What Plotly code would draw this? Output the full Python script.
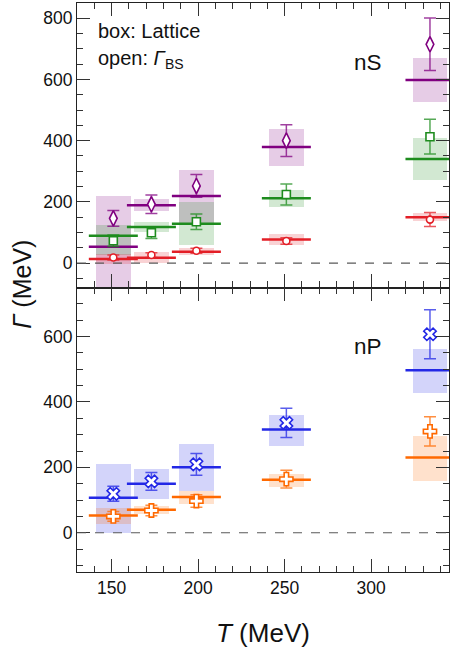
import plotly.graph_objects as go
from plotly.subplots import make_subplots

# ---------------- data ----------------
T = [151, 173, 199, 251, 334]
BOX_W = 20

# nS panel: lattice central values and band limits
lat_1S = [13, 17, 37, 77, 150]
lat_1S_lo = [-3, -1, 26, 59, 137]
lat_1S_hi = [29, 36, 48, 94, 162]
lat_2S = [89, 118, 128, 212, 340]
lat_2S_lo = [25, 101, 59, 184, 271]
lat_2S_hi = [124, 134, 200, 238, 409]
lat_3S = [53, 189, 219, 379, 598]
lat_3S_lo = [-112, 171, 129, 317, 526]
lat_3S_hi = [218, 209, 305, 437, 669]
# nS panel: Gamma_BS points with errors
bs_1S = [18, 26, 40, 72, 142]
bs_1S_err = [8, 8, 8, 11, 23]
bs_2S = [73, 99, 135, 224, 413]
bs_2S_err = [19, 19, 25, 34, 57]
bs_3S = [146, 192, 252, 400, 715]
bs_3S_err = [26, 30, 37, 52, 86]

# nP panel
lat_1P = [53, 70, 109, 162, 230]
lat_1P_lo = [27, 58, 91, 141, 161]
lat_1P_hi = [76, 82, 128, 182, 296]
lat_2P = [107, 150, 200, 316, 497]
lat_2P_lo = [0, 104, 128, 268, 429]
lat_2P_hi = [212, 195, 274, 363, 565]
bs_1P = [50, 68, 97, 164, 310]
bs_1P_err = [15, 16, 19, 27, 45]
bs_2P = [119, 157, 209, 336, 607]
bs_2P_err = [23, 27, 33, 45, 75]

X_TICKS = [150, 200, 250, 300]
Y_TICKS_S = [0, 200, 400, 600, 800]
Y_TICKS_P = [0, 200, 400, 600]

# ---------------- style ----------------
RED = (227, 30, 38)
GREEN = (30, 140, 30)
PURPLE = (128, 0, 128)
BLUE = (35, 40, 230)
ORANGE = (255, 105, 0)


def rgba(c, a=1.0):
    return f"rgba({c[0]},{c[1]},{c[2]},{a})"


FONT = "Liberation Sans, Arial, sans-serif"

fig = make_subplots(rows=2, cols=1, shared_xaxes=True, vertical_spacing=0)


def add_band(row, center, lo, hi, col):
    fig.add_trace(go.Bar(x=T, y=[h - l for h, l in zip(hi, lo)], base=lo,
                         width=BOX_W, marker=dict(color=rgba(col, 0.2), line=dict(width=0)),
                         hoverinfo="skip", showlegend=False), row=row, col=1)


def add_line(row, center, col):
    fig.add_trace(go.Scatter(x=T, y=center, mode="markers",
                             marker=dict(symbol="line-ew", size=35,
                                         line=dict(color=rgba(col), width=2.5)),
                             hoverinfo="skip", showlegend=False), row=row, col=1)


def add_points(row, vals, err, col, symbol, size):
    fig.add_trace(go.Scatter(x=T, y=vals, mode="markers",
                             error_y=dict(type="data", array=err, color=rgba(col, 0.75),
                                          thickness=1.5, width=6),
                             marker=dict(symbol=symbol, size=size, color="white",
                                         line=dict(color=rgba(col), width=1.6)),
                             hoverinfo="skip", showlegend=False), row=row, col=1)


# nS panel
add_band(1, lat_3S, lat_3S_lo, lat_3S_hi, PURPLE)
add_band(1, lat_2S, lat_2S_lo, lat_2S_hi, GREEN)
add_band(1, lat_1S, lat_1S_lo, lat_1S_hi, RED)
add_line(1, lat_3S, PURPLE)
add_line(1, lat_2S, GREEN)
add_line(1, lat_1S, RED)
add_points(1, bs_3S, bs_3S_err, PURPLE, "diamond-tall", 11)
add_points(1, bs_2S, bs_2S_err, GREEN, "square", 8)
add_points(1, bs_1S, bs_1S_err, RED, "circle", 7)

# nP panel
add_band(2, lat_2P, lat_2P_lo, lat_2P_hi, BLUE)
add_band(2, lat_1P, lat_1P_lo, lat_1P_hi, ORANGE)
add_line(2, lat_2P, BLUE)
add_line(2, lat_1P, ORANGE)
add_points(2, bs_2P, bs_2P_err, BLUE, "x", 11)
add_points(2, bs_1P, bs_1P_err, ORANGE, "cross", 11)

for r in (1, 2):
    fig.add_hline(y=0, line=dict(color="rgba(90,90,90,1)", width=1.2, dash="dash"), row=r, col=1)

axis_common = dict(showline=True, linecolor="#222", linewidth=1.2, mirror="ticks",
                   ticks="inside", ticklen=13, tickwidth=1.2, tickcolor="#333",
                   showgrid=False, zeroline=False, automargin=False,
                   tickfont=dict(family=FONT, size=17.5, color="#111"))

fig.update_xaxes(range=[130, 345], tickvals=X_TICKS,
                 minor=dict(ticks="inside", ticklen=6, dtick=10, tick0=0, tickcolor="#333", tickwidth=1),
                 **axis_common)
fig.update_yaxes(range=[-80, 850], tickvals=Y_TICKS_S,
                 minor=dict(ticks="inside", ticklen=6, dtick=50, tick0=0, tickcolor="#333", tickwidth=1),
                 row=1, col=1, **axis_common)
fig.update_yaxes(range=[-120, 750], tickvals=Y_TICKS_P,
                 minor=dict(ticks="inside", ticklen=6, dtick=50, tick0=0, tickcolor="#333", tickwidth=1),
                 row=2, col=1, **axis_common)

fig.update_layout(
    width=454, height=656,
    margin=dict(l=77, r=5, t=3, b=84, autoexpand=False),
    plot_bgcolor="white", paper_bgcolor="white",
    barmode="overlay", bargap=0,
    font=dict(family=FONT, color="#111"),
)

fig.add_annotation(text="box: Lattice", xref="paper", yref="paper", x=0.052, y=0.951,
                   xanchor="left", yanchor="middle", showarrow=False,
                   font=dict(family=FONT, size=20, color="#111"))
fig.add_annotation(text="open: <i>Γ</i><sub>BS</sub>", xref="paper", yref="paper", x=0.052, y=0.901,
                   xanchor="left", yanchor="middle", showarrow=False,
                   font=dict(family=FONT, size=20, color="#111"))
fig.add_annotation(text="nS", xref="paper", yref="paper", x=0.782, y=0.896,
                   xanchor="center", yanchor="middle", showarrow=False,
                   font=dict(family=FONT, size=22.5, color="#111"))
fig.add_annotation(text="nP", xref="paper", yref="paper", x=0.782, y=0.397,
                   xanchor="center", yanchor="middle", showarrow=False,
                   font=dict(family=FONT, size=22.5, color="#111"))
fig.add_annotation(text="<i>Γ</i> (MeV)", xref="paper", yref="paper", x=-0.15, y=0.505,
                   xanchor="center", yanchor="middle", textangle=-90, showarrow=False,
                   font=dict(family=FONT, size=25, color="#111"))
fig.add_annotation(text="<i>T</i> (MeV)", xref="paper", yref="paper", x=0.499, y=-0.108,
                   xanchor="center", yanchor="middle", showarrow=False,
                   font=dict(family=FONT, size=26, color="#111"))

fig.write_html("out.html", config={"displayModeBar": False},
               post_script="document.body.style.margin='0';document.body.style.overflow='hidden';")
